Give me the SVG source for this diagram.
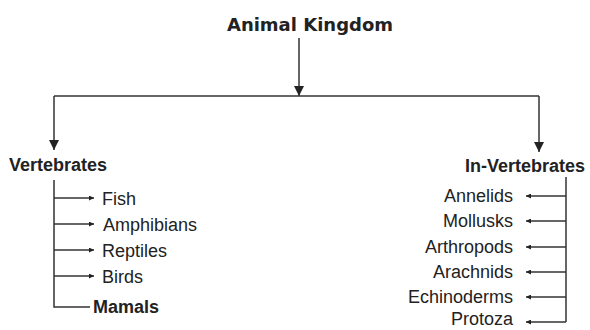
<svg xmlns="http://www.w3.org/2000/svg" width="590" height="330" viewBox="0 0 590 330">
<defs>
<style>
.t{font-family:"Liberation Sans",Arial,sans-serif;font-size:18px;fill:#222}
.b{font-weight:bold}
.h{font-family:"DejaVu Sans",Verdana,sans-serif;font-weight:bold;font-size:18px;fill:#222}
.ln{stroke:#333;stroke-width:1.5;fill:none}
</style>
<marker id="big" viewBox="0 0 10 10" refX="10" refY="5" markerWidth="10" markerHeight="10" markerUnits="userSpaceOnUse" orient="auto"><path d="M0,0 L10,5 L0,10 Z" fill="#222"/></marker>
<marker id="sm" viewBox="0 0 10 10" refX="10" refY="5" markerWidth="6" markerHeight="5" markerUnits="userSpaceOnUse" orient="auto"><path d="M0,0 L10,5 L0,10 Z" fill="#222"/></marker>
</defs>
<rect width="590" height="330" fill="#fff"/>
<g id="connectors">
<line class="ln" x1="299" y1="38" x2="299" y2="96" marker-end="url(#big)"/>
<line class="ln" x1="54" y1="96" x2="539" y2="96"/>
<line class="ln" x1="54" y1="96" x2="54" y2="150" marker-end="url(#big)"/>
<line class="ln" x1="539" y1="96" x2="539" y2="152" marker-end="url(#big)"/>
<polyline class="ln" points="54,180 54,307 90,307"/>
<line class="ln" x1="54" y1="198" x2="94" y2="198" marker-end="url(#sm)"/>
<line class="ln" x1="54" y1="224" x2="94" y2="224" marker-end="url(#sm)"/>
<line class="ln" x1="54" y1="250" x2="94" y2="250" marker-end="url(#sm)"/>
<line class="ln" x1="54" y1="276" x2="94" y2="276" marker-end="url(#sm)"/>
<line class="ln" x1="566" y1="177" x2="566" y2="322"/>
<line class="ln" x1="566" y1="196" x2="526" y2="196" marker-end="url(#sm)"/>
<line class="ln" x1="566" y1="221" x2="526" y2="221" marker-end="url(#sm)"/>
<line class="ln" x1="566" y1="247" x2="526" y2="247" marker-end="url(#sm)"/>
<line class="ln" x1="566" y1="272" x2="526" y2="272" marker-end="url(#sm)"/>
<line class="ln" x1="566" y1="297" x2="526" y2="297" marker-end="url(#sm)"/>
<line class="ln" x1="566" y1="322" x2="526" y2="322" marker-end="url(#sm)"/>
</g>
<g id="root"><text class="h" x="310" y="31" text-anchor="middle">Animal Kingdom</text></g>
<g id="vertebrates"><text class="t b" x="9" y="171">Vertebrates</text></g>
<g id="invertebrates"><text class="t b" x="585" y="172" text-anchor="end">In-Vertebrates</text></g>
<g id="fish"><text class="t" x="102" y="205">Fish</text></g>
<g id="amphibians"><text class="t" x="103" y="231">Amphibians</text></g>
<g id="reptiles"><text class="t" x="102" y="257">Reptiles</text></g>
<g id="birds"><text class="t" x="102" y="283">Birds</text></g>
<g id="mamals"><text class="t b" x="93" y="313">Mamals</text></g>
<g id="annelids"><text class="t" x="513" y="202" text-anchor="end">Annelids</text></g>
<g id="mollusks"><text class="t" x="513" y="227" text-anchor="end">Mollusks</text></g>
<g id="arthropods"><text class="t" x="513" y="253" text-anchor="end">Arthropods</text></g>
<g id="arachnids"><text class="t" x="513" y="278" text-anchor="end">Arachnids</text></g>
<g id="echinoderms"><text class="t" x="513" y="303" text-anchor="end">Echinoderms</text></g>
<g id="protoza"><text class="t" x="513" y="325" text-anchor="end">Protoza</text></g>
</svg>
